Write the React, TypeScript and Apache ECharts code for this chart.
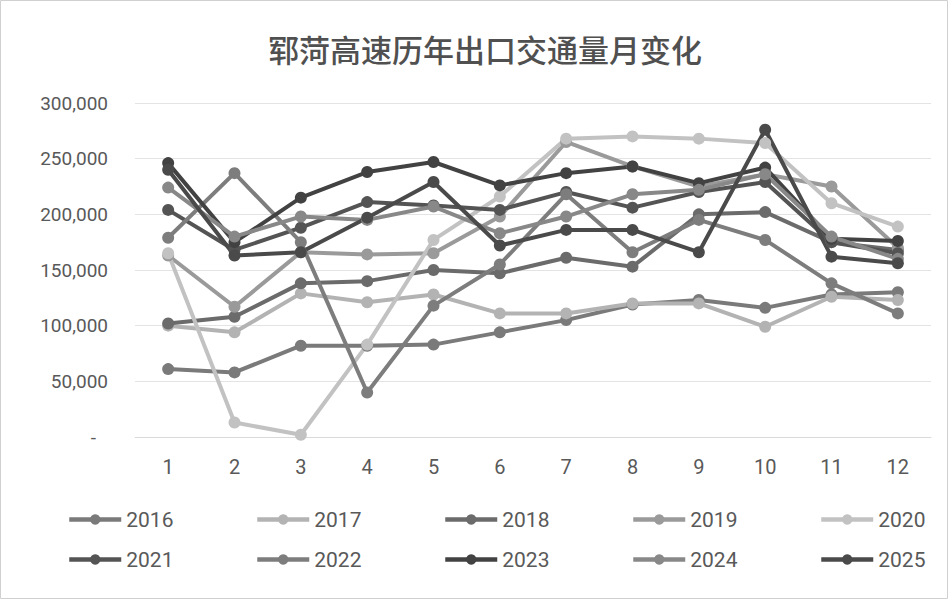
import React, { useEffect, useRef } from "react";
import * as echarts from "echarts";

const titleText = "郓菏高速历年出口交通量月变化";
const months = ["1", "2", "3", "4", "5", "6", "7", "8", "9", "10", "11", "12"];
const years = ["2016", "2017", "2018", "2019", "2020", "2021", "2022", "2023", "2024", "2025"];

const v2016 = [61000, 58000, 82000, 82000, 83000, 94000, 105000, 119000, 123000, 116000, 128000, 130000];
const v2017 = [100000, 94000, 129000, 121000, 128000, 111000, 111000, 120000, 120000, 99000, 126000, 123000];
const v2018 = [102000, 108000, 138000, 140000, 150000, 147000, 161000, 153000, 200000, 202000, 175000, 168000];
const v2019 = [163000, 117000, 166000, 164000, 165000, 198000, 265000, 243000, 225000, 236000, 225000, 170000];
const v2020 = [165000, 13000, 2000, 83000, 177000, 216000, 268000, 270000, 268000, 264000, 210000, 189000];
const v2021 = [204000, 168000, 188000, 211000, 208000, 204000, 220000, 206000, 220000, 229000, 175000, 165000];
const v2022 = [179000, 237000, 175000, 40000, 118000, 155000, 218000, 166000, 195000, 177000, 138000, 111000];
const v2023 = [246000, 175000, 215000, 238000, 247000, 226000, 237000, 243000, 228000, 242000, 178000, 176000];
const v2024 = [224000, 180000, 198000, 195000, 207000, 183000, 198000, 218000, 222000, 236000, 180000, 160000];
const v2025 = [240000, 163000, 166000, 197000, 229000, 172000, 186000, 186000, 166000, 276000, 162000, 156000];

const seriesValues = [v2016, v2017, v2018, v2019, v2020, v2021, v2022, v2023, v2024, v2025];
const seriesColors = ["#7a7a7a", "#b3b3b3", "#6b6b6b", "#9a9a9a", "#c2c2c2", "#545454", "#7d7d7d", "#424242", "#888888", "#4a4a4a"];

const yMin = 0;
const yMax = 300000;
const yInterval = 50000;

export default function App() {
  const ref = useRef<HTMLDivElement>(null);

  useEffect(() => {
    if (!ref.current) return;
    const chart = echarts.init(ref.current, null, { renderer: "svg" });
    const font = "Roboto, 'Liberation Sans', sans-serif";
    const legends = years.map((y, i) => ({
      data: [y],
      left: 62 + (i % 5) * 188,
      top: i < 5 ? 504 : 544,
      itemWidth: 52,
      itemHeight: 13,
      itemGap: 0,
      lineStyle: { width: 4.5 },
      textStyle: { fontSize: 21, color: "#595959", fontFamily: font },
      selectedMode: false,
    }));
    chart.setOption({
      animation: false,
      backgroundColor: "#ffffff",
      title: {
        text: titleText,
        left: 263,
        top: 28,
        textStyle: {
          fontSize: 31,
          fontWeight: 500,
          color: "#505050",
          fontFamily: "'Noto Sans CJK SC', sans-serif",
        },
      },
      legend: legends,
      grid: { left: 135, right: 17, top: 103, bottom: 162 },
      xAxis: {
        type: "category",
        data: months,
        boundaryGap: true,
        axisLine: { show: true, lineStyle: { color: "#d9d9d9", width: 1 } },
        axisTick: { show: false },
        axisLabel: { fontSize: 20, color: "#595959", margin: 20, fontFamily: font },
      },
      yAxis: {
        type: "value",
        min: yMin,
        max: yMax,
        interval: yInterval,
        axisLine: { show: false },
        axisTick: { show: false },
        splitLine: { lineStyle: { color: "#e3e3e3", width: 1 } },
        axisLabel: {
          fontSize: 19,
          color: "#595959",
          margin: 27,
          fontFamily: font,
          formatter: (v: number) => (v === 0 ? "{d|-}" : v.toLocaleString("en-US")),
          rich: { d: { fontSize: 19, color: "#595959", padding: [0, 12, 0, 0] } },
        },
      },
      graphic: [
        {
          type: "rect",
          shape: { x: 0.5, y: 0.5, width: 947, height: 598 },
          style: { fill: "none", stroke: "#d0d0d0", lineWidth: 1 },
          silent: true,
        },
      ],
      series: years.map((y, i) => ({
        name: y,
        type: "line",
        data: seriesValues[i],
        symbol: "circle",
        symbolSize: 12,
        lineStyle: { width: 4, color: seriesColors[i] },
        itemStyle: { color: seriesColors[i] },
        emphasis: { disabled: true },
      })),
    });
    return () => chart.dispose();
  }, []);

  return (
    <div
      ref={ref}
      style={{ position: "fixed", left: 0, top: 0, width: 948, height: 599, background: "#fff" }}
    />
  );
}
